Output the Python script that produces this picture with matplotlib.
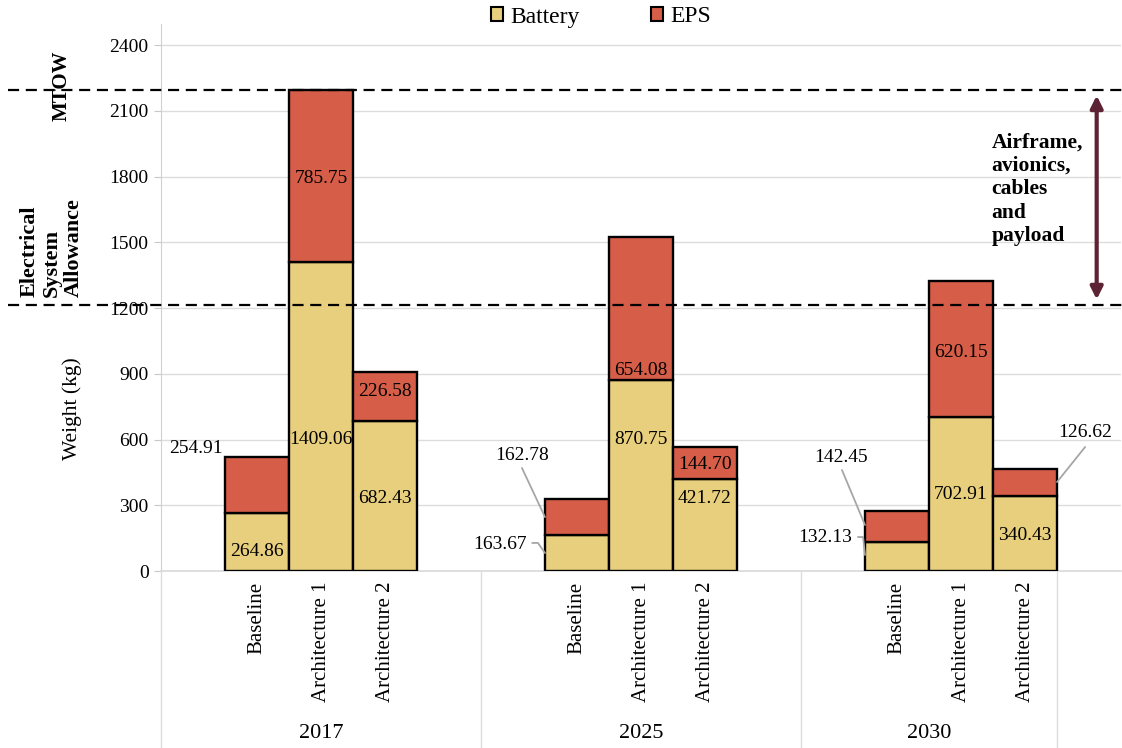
import matplotlib
matplotlib.use("Agg")
import matplotlib.pyplot as plt
import matplotlib.transforms as mtransforms
from matplotlib.lines import Line2D
from matplotlib.patches import Patch

plt.rcParams['font.family'] = ['Liberation Serif', 'DejaVu Serif']

# ---- data -------------------------------------------------------------
years = ['2017', '2025', '2030']
architectures = ['Baseline', 'Architecture 1', 'Architecture 2']
battery_kg = [[264.86, 1409.06, 682.43],
              [163.67, 870.75, 421.72],
              [132.13, 702.91, 340.43]]
eps_kg = [[254.91, 785.75, 226.58],
          [162.78, 654.08, 144.70],
          [142.45, 620.15, 126.62]]
y_ticks = [0, 300, 600, 900, 1200, 1500, 1800, 2100, 2400]
mtow_kg = 2194.81
allowance_kg = 1214

# ---- label placement (x offset from bar centre, y in kg) ----------------
battery_label_pos = [[(0, 91), (0, 602), (0, 333)],
                     [(-1.20, 119), (0, 602), (0, 333)],
                     [(-1.12, 151), (0, 347), (0, 164)]]
eps_label_pos = [[(-0.95, 557), (0, 1793), (0, 821)],
                 [(-0.86, 525), (0, 917), (0, 488)],
                 [(-0.87, 516), (0, 995), (0.94, 630)]]
# leader lines: (series, group, bar) -> polyline as offsets from bar centre / kg
leaders = {
    ('eps', 1, 0): [(-0.86, 470), (-0.5, 246)],
    ('bat', 1, 0): [(-0.70, 128), (-0.61, 128), (-0.5, 82)],
    ('eps', 2, 0): [(-0.86, 461), (-0.5, 210)],
    ('bat', 2, 0): [(-0.61, 155), (-0.53, 155), (-0.5, 73)],
    ('eps', 2, 2): [(0.94, 566), (0.5, 406)],
}

BAT_COLOR = '#E8CF7D'
EPS_COLOR = '#D65D48'
GRID = '#dcdcdc'

W, H = 1122, 748
fig = plt.figure(figsize=(W / 100, H / 100), dpi=100)
ax = fig.add_axes([161 / W, 1 - 571 / H, 960 / W, 547 / H])
ax.set_xlim(0, 15)
ax.set_ylim(0, 2496)

group_width = 5
for g, year in enumerate(years):
    for j, arch in enumerate(architectures):
        x = g * group_width + 1.5 + j
        b = battery_kg[g][j]
        e = eps_kg[g][j]
        ax.bar(x, b, width=1, color=BAT_COLOR, edgecolor='black', linewidth=1.7, zorder=3)
        ax.bar(x, e, bottom=b, width=1, color=EPS_COLOR, edgecolor='black', linewidth=1.7, zorder=3)
        bx, by = battery_label_pos[g][j]
        ex, ey = eps_label_pos[g][j]
        ax.text(x + bx, by, f'{b:.2f}', ha='center', va='center', fontsize=14, zorder=5)
        ax.text(x + ex, ey, f'{e:.2f}', ha='center', va='center', fontsize=14, zorder=5)
        for kind in ('bat', 'eps'):
            pts = leaders.get((kind, g, j))
            if pts:
                ax.plot([x + p[0] for p in pts], [p[1] for p in pts],
                        color='#a6a6a6', lw=1.3, zorder=4, solid_capstyle='round')

# axes styling
ax.set_yticks(y_ticks)
ax.set_yticklabels([str(t) for t in y_ticks], fontsize=14)
ax.set_xticks([])
ax.yaxis.grid(True, color=GRID, lw=1)
ax.set_axisbelow(True)
ax.tick_params(axis='y', length=5, color='#c8c8c8', pad=4)
for side in ('top', 'right'):
    ax.spines[side].set_visible(False)
ax.spines['left'].set_color('#d0d0d0')
ax.spines['bottom'].set_color('#d9d9d9')
ax.spines['bottom'].set_linewidth(1.2)

# category axis: architecture names, years and group separators
blend = mtransforms.blended_transform_factory(ax.transData, ax.transAxes)
for g, year in enumerate(years):
    for j, arch in enumerate(architectures):
        x = g * group_width + 1.5 + j
        ax.text(x, -0.02, arch, transform=blend, rotation=90,
                ha='center', va='top', fontsize=15)
seps = [0, 5, 10, 14]
for s in seps:
    ax.plot([s, s], [0, -(H - 571) / 547], transform=blend, color=GRID,
            lw=1, clip_on=False)
for g, year in enumerate(years):
    ax.text((seps[g] + seps[g + 1]) / 2, -(733 - 571) / 547, year,
            transform=blend, ha='center', va='center', fontsize=16)

# reference weights spanning the whole figure width
fig_blend = mtransforms.blended_transform_factory(fig.transFigure, ax.transData)
for yv in (mtow_kg, allowance_kg):
    fig.add_artist(Line2D([8 / W, 1], [yv, yv], transform=fig_blend,
                          color='black', lw=1.6, ls=(0, (5, 3)), zorder=6))

# remaining-mass arrow
ax.annotate('', xy=(14.62, mtow_kg - 25), xytext=(14.62, allowance_kg + 25),
            arrowprops=dict(arrowstyle='<|-|>', color='#5B2333', lw=3,
                            mutation_scale=18, shrinkA=0, shrinkB=0), zorder=6)
ax.text(12.98, 2000, 'Airframe,\navionics,\ncables\nand\npayload',
        ha='left', va='top', fontsize=15.5, fontweight='bold', linespacing=1.22)

# left-hand annotations
fig.text(62 / W, 1 - 86 / H, 'MTOW', rotation=90, ha='center', va='center',
         fontsize=15, fontweight='bold')
fig.text(52 / W, 1 - 248 / H, 'Electrical\nSystem\nAllowance', rotation=90,
         ha='center', va='center', fontsize=16, fontweight='bold',
         multialignment='left', linespacing=1.15)
fig.text(72 / W, 1 - 409 / H, 'Weight (kg)', rotation=90, ha='center',
         va='center', fontsize=15.5)

# legend
handles = [Patch(facecolor=BAT_COLOR, edgecolor='black', lw=1.5),
           Patch(facecolor=EPS_COLOR, edgecolor='black', lw=1.5)]
fig.legend(handles, ['Battery', 'EPS'], loc='center',
           bbox_to_anchor=(601 / W, 1 - 17 / H), ncol=2, frameon=False,
           fontsize=17, handlelength=0.5, handleheight=0.5,
           handletextpad=0.3, columnspacing=3.05, borderpad=0)

fig.savefig('out.png', dpi=100)
